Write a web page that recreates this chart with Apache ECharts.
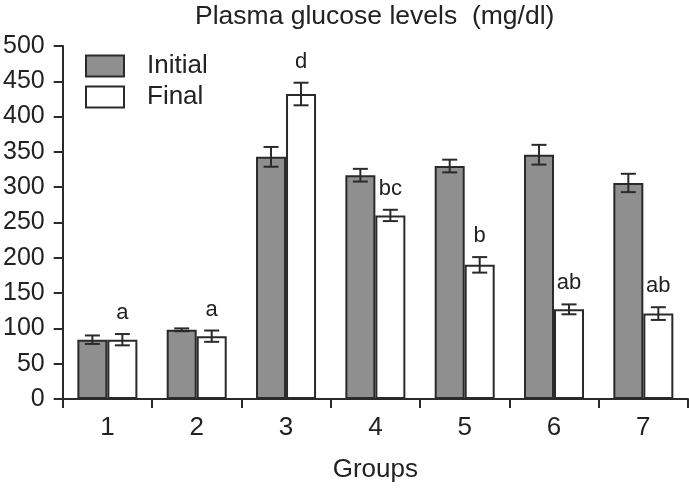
<!DOCTYPE html>
<html>
<head>
<meta charset="utf-8">
<script src="https://cdn.jsdelivr.net/npm/echarts@6/dist/echarts.min.js"></script>
<style>html,body{margin:0;padding:0;background:#fff}#c{width:689px;height:488px}</style>
</head>
<body>
<div id="c"></div>
<script>
var categories = ['1', '2', '3', '4', '5', '6', '7'];
var initialValues = [84, 98, 343, 317, 330, 346, 306];
var initialErrors = [6, 2, 14, 9, 9, 14, 13];
var finalValues = [84, 89, 432, 260, 190, 127, 121];
var finalErrors = [8, 8, 16, 8, 11, 7, 9];
var sigLabels = ['a', 'a', 'd', 'bc', 'b', 'ab', 'ab'];
var yTicks = [0, 50, 100, 150, 200, 250, 300, 350, 400, 450, 500];

var FONT = 'Liberation Sans, Arial, Helvetica, sans-serif';
var INK = '#2a2a2a';
var BAR_W = 30;

function errData(vals, errs) {
  return vals.map(function (v, i) { return [i, v, errs[i]]; });
}
function errRender(side) {
  return function (params, api) {
    var i = api.value(0), v = api.value(1), e = api.value(2);
    var top = api.coord([i, v + e]);
    var bot = api.coord([i, v - e]);
    var x = top[0] + side * BAR_W / 2;
    var cap = 7.5;
    var st = { stroke: INK, lineWidth: 2 };
    return { type: 'group', children: [
      { type: 'line', shape: { x1: x, y1: top[1], x2: x, y2: bot[1] }, style: st },
      { type: 'line', shape: { x1: x - cap, y1: top[1], x2: x + cap, y2: top[1] }, style: st },
      { type: 'line', shape: { x1: x - cap, y1: bot[1], x2: x + cap, y2: bot[1] }, style: st }
    ]};
  };
}

var chart = echarts.init(document.getElementById('c'), null, { renderer: 'canvas' });
chart.setOption({
  animation: false,
  backgroundColor: '#fff',
  title: {
    text: 'Plasma glucose levels  (mg/dl)',
    left: 195, top: 3, padding: 0,
    textStyle: { fontFamily: FONT, fontSize: 26.5, fontWeight: 'normal', color: '#222' }
  },
  legend: {
    data: ['Initial', 'Final'],
    orient: 'vertical',
    left: 85, top: 53, padding: 0,
    itemWidth: 38, itemHeight: 21, itemGap: 5,
    icon: 'rect',
    textStyle: { fontFamily: FONT, fontSize: 26, lineHeight: 21, color: '#222', padding: [0, 0, 0, 18] }
  },
  grid: { left: 61, top: 46, width: 627, height: 355, containLabel: false },
  xAxis: {
    type: 'category',
    data: categories,
    name: 'Groups',
    nameLocation: 'middle',
    nameGap: 58,
    nameTextStyle: { fontFamily: FONT, fontSize: 26, color: '#222', verticalAlign: 'top' },
    axisLine: { lineStyle: { color: INK, width: 2 } },
    axisTick: { show: true, length: 9, alignWithLabel: false, lineStyle: { color: INK, width: 2 } },
    axisLabel: { fontFamily: FONT, fontSize: 26, color: '#222', margin: 16 },
    boundaryGap: true
  },
  yAxis: {
    type: 'value',
    min: 0, max: 500, interval: 50,
    splitLine: { show: false },
    axisLine: { show: true, lineStyle: { color: INK, width: 2 } },
    axisTick: { show: true, length: 9, lineStyle: { color: INK, width: 2 } },
    axisLabel: { fontFamily: FONT, fontSize: 25, color: '#222', margin: 18,
      formatter: function (v) { return yTicks.indexOf(v) >= 0 ? String(v) : ''; } }
  },
  series: [
    { name: 'Initial', type: 'bar', data: initialValues, barWidth: BAR_W, barGap: '0%',
      itemStyle: { color: '#8f8f8f', borderColor: INK, borderWidth: 2 } },
    { name: 'Final', type: 'bar', data: finalValues, barWidth: BAR_W, barGap: '0%',
      itemStyle: { color: '#ffffff', borderColor: INK, borderWidth: 2 } },
    { type: 'custom', name: 'errInitial', data: errData(initialValues, initialErrors),
      renderItem: errRender(-1), z: 5 },
    { type: 'custom', name: 'errFinal', data: errData(finalValues, finalErrors),
      renderItem: errRender(1), z: 5 },
    { type: 'custom', name: 'sig',
      data: finalValues.map(function (v, i) { return [i, v + finalErrors[i], sigLabels[i]]; }),
      renderItem: function (params, api) {
        var i = api.value(0), v = api.value(1);
        var p = api.coord([i, v]);
        return { type: 'text', x: p[0] + BAR_W / 2, y: p[1] - 10,
          style: { text: sigLabels[params.dataIndex], font: '22px ' + FONT, fill: '#222',
            align: 'center', verticalAlign: 'bottom' } };
      }, z: 6 }
  ]
});
</script>
</body>
</html>
